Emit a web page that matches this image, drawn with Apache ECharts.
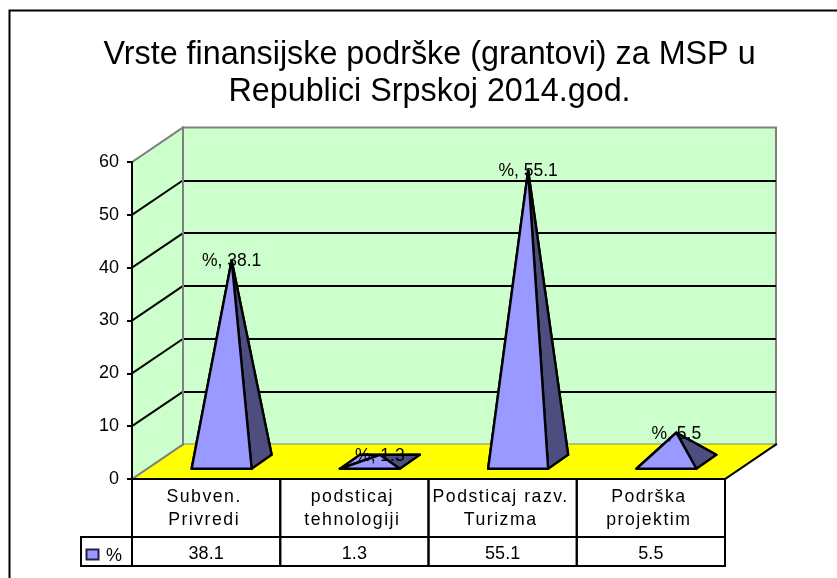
<!DOCTYPE html>
<html>

<head>
  <meta charset="utf-8" />
  <title>ECharts</title>
  <script src="https://cdn.jsdelivr.net/npm/echarts@6/dist/echarts.min.js"></script>
  <style>
    html, body { margin: 0; padding: 0; background: #fff; }
  </style>
</head>

<body>
  <div id="main" style="width: 837px;height:578px;"></div>
  <script type="text/javascript">
    var titleText = 'Vrste finansijske podrške (grantovi) za MSP u\nRepublici Srpskoj 2014.god.';
    var seriesName = '%';
    var categories = ['Subven.\nPrivredi', 'podsticaj\ntehnologiji', 'Podsticaj razv.\nTurizma', 'Podrška\nprojektim'];
    var values = [38.1, 1.3, 55.1, 5.5];
    var tableValues = ['38.1', '1.3', '55.1', '5.5'];
    var yTicks = [0, 10, 20, 30, 40, 50, 60];

    var FONT = '"Liberation Sans", Arial, sans-serif';
    var WALL = '#CCFFCC';
    var FLOOR = '#FFFF00';
    var EDGE = '#808080';
    var LIGHT = '#9999FF';
    var DARK = '#4D4D80';
    var INK = '#000000';

    // 3D depth of the box, px
    var DX = 51, DY = -34.5;
    // half size of pyramid base
    var BW = 30, BDX = 10, BDY = -7;
    // table rows below the axis
    var ROW1 = 58, ROW2 = 29, LEGEND_W = 51;

    var myChart = echarts.init(document.getElementById('main'));

    function line(x1, y1, x2, y2, color, width) {
      return {
        type: 'line',
        shape: { x1: x1, y1: y1, x2: x2, y2: y2 },
        style: { stroke: color, lineWidth: width || 2, lineCap: 'square' }
      };
    }

    function poly(points, fill, stroke) {
      return {
        type: 'polygon',
        shape: { points: points },
        style: { fill: fill, stroke: stroke || null, lineWidth: 2.4, lineJoin: 'round' }
      };
    }

    function text(str, x, y, size) {
      return {
        type: 'text',
        style: {
          text: str, x: x, y: y, fill: INK, fontSize: size, fontFamily: FONT,
          align: 'center', verticalAlign: 'middle', lineHeight: 23
        }
      };
    }

    // side wall and floor, on the front grid
    function renderBox(params, api) {
      var g = params.coordSys;
      var x0 = g.x, x1 = g.x + g.width;
      var bottom = g.y + g.height, top = g.y;
      var kids = [];
      kids.push(poly([[x0, bottom], [x0 + DX, bottom + DY], [x0 + DX, top + DY], [x0, top]], WALL));
      kids.push(poly([[x0, bottom], [x1, bottom], [x1 + DX, bottom + DY], [x0 + DX, bottom + DY]], FLOOR));
      yTicks.forEach(function (t) {
        var y = api.coord([0, t])[1];
        var color = (t == 0 || t == 60) ? EDGE : INK;
        kids.push(line(x0, y, x0 + DX, y + DY, color));
      });
      kids.push(line(x1, bottom, x1 + DX, bottom + DY, INK));
      kids.push(line(x0 + DX, bottom + DY, x0 + DX, top + DY, EDGE));
      return { type: 'group', children: kids };
    }

    // one pyramid per value, on the middle grid
    function renderPyramid(params, api) {
      var apex = api.coord([api.value(0), api.value(1)]);
      var base = api.coord([api.value(0), 0]);
      var fl = [base[0] - BW - BDX, base[1] - BDY];
      var fr = [base[0] + BW - BDX, base[1] - BDY];
      var br = [base[0] + BW + BDX, base[1] + BDY];
      var bl = [base[0] - BW + BDX, base[1] + BDY];
      return {
        type: 'group',
        children: [
          poly([bl, br, apex], DARK, INK),
          poly([fl, bl, apex], LIGHT, INK),
          poly([fr, br, apex], DARK, INK),
          poly([fl, fr, apex], LIGHT, INK)
        ]
      };
    }

    function renderPointLabel(params, api) {
      var apex = api.coord([api.value(0), api.value(1)]);
      return text(seriesName + ', ' + api.value(1), apex[0], apex[1] + 1, 17.5);
    }

    // data table under the floor
    function renderTable(params, api) {
      var g = params.coordSys;
      var bottom = g.y + g.height;
      var y1 = bottom + ROW1, y2 = y1 + ROW2;
      var xl = g.x, xr = g.x + g.width;
      var kids = [];
      categories.forEach(function (c, i) {
        var x = api.coord([i, 0])[0];
        var hw = api.size([1, 0])[0] / 2;
        kids.push(line(x - hw, bottom, x - hw, y2, INK));
        kids.push(line(x + hw, bottom, x + hw, y2, INK));
        kids.push(text(tableValues[i], x, y1 + 17, 18));
      });
      kids.push(line(xl - LEGEND_W, y1, xr, y1, INK));
      kids.push(line(xl - LEGEND_W, y2, xr, y2, INK));
      kids.push(line(xl - LEGEND_W, y1, xl - LEGEND_W, y2, INK));
      kids.push({
        type: 'rect',
        shape: { x: xl - 45.5, y: y1 + 12.5, width: 12, height: 10 },
        style: { fill: LIGHT, stroke: '#222244', lineWidth: 2 }
      });
      kids.push(text(seriesName, xl - 18, y1 + 19, 18));
      return { type: 'group', children: kids };
    }

    function renderCategoryLabels(params, api) {
      var g = params.coordSys;
      var p = api.coord([api.value(0), 0]);
      return text(categories[api.value(0)], p[0] - 2, g.y + g.height + 29.5, 17.7);
    }

    var option = {
      animation: false,
      backgroundColor: '#fff',
      title: {
        text: titleText,
        left: 424.5,
        top: 32,
        textAlign: 'center',
        textStyle: { fontFamily: FONT, fontSize: 32.3, fontWeight: 'normal', color: INK, lineHeight: 37 }
      },
      // chart frame: only left and top edges are in view
      graphic: [{
        type: 'polyline',
        silent: true,
        shape: { points: [[9.5, 578], [9.5, 10.5], [837, 10.5]] },
        style: { stroke: INK, lineWidth: 2, fill: null }
      }],
      grid: [
        { left: 132, top: 162, width: 593, height: 317 },
        {
          left: 183, top: 127.5, width: 593, height: 317, show: true,
          backgroundColor: WALL, borderColor: EDGE, borderWidth: 2
        },
        { left: 157.5, top: 144.75, width: 593, height: 317 }
      ],
      xAxis: [
        {
          gridIndex: 0, type: 'category', data: categories,
          axisLabel: { show: false }, axisTick: { show: false },
          axisLine: { lineStyle: { color: INK, width: 2 } }, z: 6
        },
        { gridIndex: 1, type: 'category', data: categories, show: false },
        { gridIndex: 2, type: 'category', data: categories, show: false }
      ],
      yAxis: [
        {
          gridIndex: 0, type: 'value', min: 0, max: 60, interval: 10,
          axisLine: { show: true, lineStyle: { color: INK, width: 2 } },
          axisTick: { show: true, length: 5, lineStyle: { color: INK, width: 2 } },
          axisLabel: { fontFamily: FONT, fontSize: 18, color: INK, margin: 13 },
          splitLine: { show: false }, z: 6
        },
        {
          gridIndex: 1, type: 'value', min: 0, max: 60, interval: 10, position: 'left',
          axisLine: { show: false }, axisTick: { show: false }, axisLabel: { show: false },
          splitLine: { show: true, showMinLine: false, showMaxLine: false, lineStyle: { color: INK, width: 2 } }
        },
        {
          gridIndex: 2, type: 'value', min: 0, max: 60, interval: 10,
          axisLine: { show: false }, axisTick: { show: false }, axisLabel: { show: false }, splitLine: { show: false }
        }
      ],
      series: [
        { type: 'custom', name: 'box', xAxisIndex: 0, yAxisIndex: 0, z: 3, silent: true, renderItem: renderBox, data: [[0, 0]] },
        { type: 'custom', name: 'table', xAxisIndex: 0, yAxisIndex: 0, z: 5, silent: true, renderItem: renderTable, data: [[0, 0]] },
        {
          type: 'custom', name: seriesName, xAxisIndex: 2, yAxisIndex: 2, z: 7, renderItem: renderPyramid,
          data: values.map(function (v, i) { return [i, v]; }), clip: false
        },
        {
          type: 'custom', name: 'labels', xAxisIndex: 2, yAxisIndex: 2, z: 8, silent: true, renderItem: renderPointLabel,
          data: values.map(function (v, i) { return [i, v]; })
        },
        {
          type: 'custom', name: 'categories', xAxisIndex: 0, yAxisIndex: 0, zlevel: 1, silent: true, renderItem: renderCategoryLabels,
          data: categories.map(function (c, i) { return [i, 0]; })
        }
      ]
    };
    myChart.setOption(option);

    // category cells have wide letter spacing, they sit on their own canvas layer.
    // the layer only takes it after the first paint, so draw once more
    var zr = myChart.getZr();
    zr.refreshImmediately();
    zr.painter.getLayer(1).ctx.letterSpacing = '1.5px';
    myChart.setOption(option, true);
  </script>
</body>

</html>
